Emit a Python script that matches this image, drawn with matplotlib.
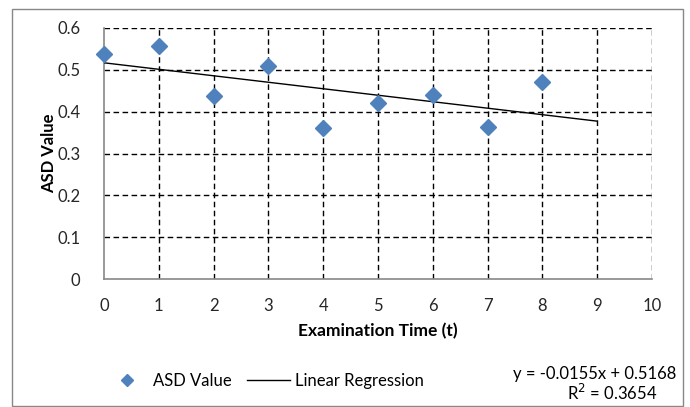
import matplotlib
matplotlib.use("Agg")
import matplotlib.pyplot as plt
from matplotlib.patches import Rectangle
import numpy as np

plt.rcParams['font.family'] = ['Lato', 'DejaVu Sans']

# Data
exam_time = [0, 1, 2, 3, 4, 5, 6, 7, 8]
asd_value = [0.538, 0.557, 0.438, 0.508, 0.361, 0.421, 0.441, 0.363, 0.472]
slope = -0.0155
intercept = 0.5168
r_squared = 0.3654
reg_x = [0, 9]
x_ticks = [0, 1, 2, 3, 4, 5, 6, 7, 8, 9, 10]
y_ticks = [0, 0.1, 0.2, 0.3, 0.4, 0.5, 0.6]
y_tick_labels = ['0', '0.1', '0.2', '0.3', '0.4', '0.5', '0.6']

fig = plt.figure(figsize=(6.9, 4.07), dpi=100)
fig.patches.append(Rectangle((12/690, 1-406/407), 671/690, 397/407, transform=fig.transFigure,
                             fill=False, edgecolor='#888888', lw=1))
ax = fig.add_axes([104/690, 1-279/407, (652-104)/690, (279-28)/407])

ax.set_xlim(0, 10)
ax.set_ylim(0, 0.6)
ax.set_xticks(x_ticks)
ax.set_yticks(y_ticks)
ax.set_yticklabels(y_tick_labels)
ax.xaxis.grid(True, color='black', linestyle=(0, (4, 2.5)), linewidth=1)
ax.yaxis.grid(True, color='black', linestyle=(0, (4, 2.5)), linewidth=1)
ax.get_xgridlines()[0].set_visible(False)
ax.get_ygridlines()[0].set_visible(False)
ax.set_axisbelow(True)
for s in ['top', 'right']:
    ax.spines[s].set_visible(False)
for s in ['left', 'bottom']:
    ax.spines[s].set_color('#888888')
    ax.spines[s].set_linewidth(1.2)
    ax.spines[s].set_zorder(3)
ax.tick_params(length=0, labelsize=12, labelcolor='#262626')
ax.tick_params(axis='x', pad=14)
ax.tick_params(axis='y', pad=17)

rx = np.array(reg_x, dtype=float)
ax.plot(rx, slope * rx + intercept, color='black', lw=1, label='Linear Regression', zorder=4)
ax.plot(exam_time, asd_value, linestyle='none', marker='D', ms=8, color='#4F81BD',
        markeredgecolor='#4F81BD', label='ASD Value', zorder=5, clip_on=False)

ax.set_xlabel('Examination Time (t)', fontsize=12.5, fontweight='bold', labelpad=6)
ax.set_ylabel('ASD Value', fontsize=12, fontweight='bold', labelpad=0)

handles, labels = ax.get_legend_handles_labels()
leg = fig.legend([handles[1], handles[0]], [labels[1], labels[0]], loc='center left',
                 bbox_to_anchor=(90/690, 1-381/407), ncol=2, frameon=False, fontsize=12,
                 handlelength=2.6, columnspacing=0.9, handletextpad=0.3, markerscale=0.8)

fig.text(676/690, 1-374/407, f'y = {slope}x + {intercept}', ha='right', va='center', fontsize=12)
fig.text(612/690, 1-393/407, f'R$^2$ = {r_squared}', ha='center', va='center', fontsize=12)

fig.savefig('out.png', dpi=100)
